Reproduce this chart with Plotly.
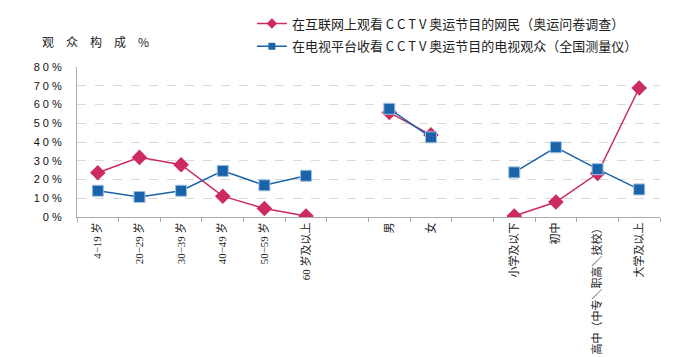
import plotly.graph_objects as go

# ---- data ----
age_groups = ["4−19 岁", "20−29 岁", "30−39 岁", "40−49 岁", "50−59 岁", "60 岁及以上"]
genders = ["男", "女"]
education = ["小学及以下", "初中", "高中（中专＼职高＼技校）", "大学及以上"]

net_age = [23.6, 31.8, 27.9, 11.1, 4.5, 0.5]
net_gender = [55.7, 43.8]
net_edu = [0.5, 8.0, 23.2, 68.8]

tv_age = [14.0, 10.7, 14.0, 24.6, 16.9, 22.0]
tv_gender = [57.7, 42.5]
tv_edu = [23.8, 37.2, 25.5, 14.7]

y_ticks = [0, 10, 20, 30, 40, 50, 60, 70, 80]
y_tick_labels = ["0 %", "1 0 %", "2 0 %", "3 0 %", "4 0 %", "5 0 %", "6 0 %", "7 0 %", "8 0 %"]

net_name = "在互联网上观看 C C T V 奥运节目的网民（奥运问卷调查）"
tv_name = "在电视平台收看 C C T V 奥运节目的电视观众（全国测量仪）"
y_title = "观　众　构　成　%"

gap1, gap2 = " ", "  "
categories = age_groups + [gap1] + genders + [gap2] + education
net_vals = net_age + [None] + net_gender + [None] + net_edu
tv_vals = tv_age + [None] + tv_gender + [None] + tv_edu

RED = "#CD2A5F"
BLUE = "#1B63A8"
FONT = "Liberation Serif, Noto Sans CJK SC, serif"
CJK = "Noto Sans CJK SC"

fig = go.Figure()
fig.add_trace(go.Scatter(
    x=categories, y=net_vals, name=net_name, mode="lines+markers",
    connectgaps=False, showlegend=False,
    line=dict(color=RED, width=1.5),
    marker=dict(symbol="diamond", size=12, color=RED, line=dict(width=0)),
))
fig.add_trace(go.Scatter(
    x=categories, y=tv_vals, name=tv_name, mode="lines+markers",
    connectgaps=False, showlegend=False,
    line=dict(color=BLUE, width=1.5),
    marker=dict(symbol="square", size=11, color=BLUE, line=dict(width=1, color="#9CC0E4")),
))
# legend entries (smaller symbols, as in the reference)
fig.add_trace(go.Scatter(
    x=[None], y=[None], name=net_name, mode="lines+markers", legendgroup="a",
    line=dict(color=RED, width=1.5),
    marker=dict(symbol="diamond", size=8, color=RED),
))
fig.add_trace(go.Scatter(
    x=[None], y=[None], name=tv_name, mode="lines+markers", legendgroup="b",
    line=dict(color=BLUE, width=1.5),
    marker=dict(symbol="square", size=7, color=BLUE),
))

fig.update_layout(
    width=692, height=349,
    margin=dict(l=69, r=40, t=59, b=140, autoexpand=False),
    paper_bgcolor="white", plot_bgcolor="white",
    font=dict(family=FONT, size=11, color="#222"),
    showlegend=True,
    legend=dict(
        x=0.30, y=1.39, xanchor="left", yanchor="top",
        traceorder="grouped", tracegroupgap=3,
        font=dict(family=CJK, size=13, color="#222"),
        bgcolor="rgba(0,0,0,0)",
    ),
    xaxis=dict(
        type="category", categoryorder="array", categoryarray=categories,
        range=[-0.5, len(categories) - 0.5], autorange=False,
        tickson="boundaries", ticks="outside", ticklen=4, tickcolor="#AAAAAA",
        showline=True, linecolor="#AAAAAA", linewidth=1,
        showgrid=False, tickangle=-90, automargin=False,
        tickfont=dict(family=FONT, size=11, color="#222"),
        fixedrange=True,
    ),
    yaxis=dict(
        range=[0, 80], tickvals=y_ticks, ticktext=y_tick_labels,
        showgrid=True, gridcolor="#D9D9D9", griddash="dash", gridwidth=1,
        showline=True, linecolor="#AAAAAA", linewidth=1,
        zeroline=False, ticks="", ticklen=0, automargin=False,
        ticklabelstandoff=12,
        tickfont=dict(family="Liberation Sans, sans-serif", size=11, color="#111"),
        fixedrange=True,
    ),
    annotations=[dict(
        text=y_title, xref="paper", yref="paper",
        x=-0.064, y=1.167, xanchor="left", yanchor="middle", showarrow=False,
        font=dict(family=CJK, size=12, color="#222"),
    )],
)

fig.write_html("out.html")
